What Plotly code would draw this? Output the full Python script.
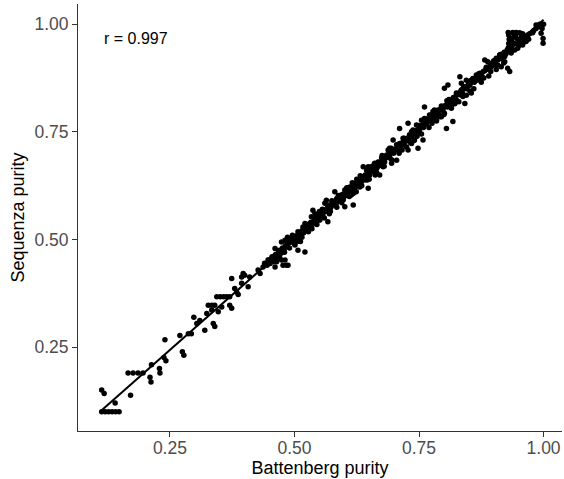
import numpy as np
import plotly.graph_objects as go

# Outlying / low-purity samples (Battenberg, Sequenza)
low_points = [
    (0.113, 0.100), (0.120, 0.100), (0.127, 0.100), (0.134, 0.100), (0.141, 0.100), (0.148, 0.100),
    (0.113, 0.150), (0.118, 0.142), (0.140, 0.120), (0.171, 0.138),
    (0.166, 0.190), (0.176, 0.190), (0.186, 0.190), (0.196, 0.190),
    (0.210, 0.180), (0.212, 0.169), (0.213, 0.209), (0.229, 0.200), (0.230, 0.190),
    (0.240, 0.267), (0.238, 0.226), (0.242, 0.218), (0.270, 0.277), (0.287, 0.281),
    (0.275, 0.239), (0.278, 0.231),
]
mid_points = [
    (0.293, 0.281), (0.298, 0.319), (0.304, 0.305), (0.310, 0.312), (0.320, 0.289),
    (0.324, 0.328), (0.327, 0.347), (0.334, 0.347), (0.340, 0.347), (0.334, 0.336),
    (0.337, 0.305), (0.340, 0.298), (0.347, 0.332), (0.354, 0.343),
    (0.344, 0.367), (0.351, 0.367), (0.358, 0.367), (0.364, 0.367), (0.370, 0.367),
    (0.370, 0.347), (0.374, 0.340), (0.374, 0.409), (0.380, 0.386), (0.384, 0.378),
    (0.387, 0.372), (0.394, 0.413), (0.397, 0.421), (0.400, 0.417), (0.394, 0.398),
    (0.407, 0.390), (0.410, 0.413), (0.427, 0.429), (0.431, 0.421), (0.437, 0.436),
    (0.447, 0.452), (0.454, 0.456), (0.457, 0.448), (0.461, 0.436), (0.451, 0.444),
    (0.464, 0.448), (0.474, 0.452), (0.484, 0.440),
    (0.461, 0.463), (0.461, 0.479), (0.477, 0.440), (0.481, 0.452), (0.487, 0.440),
    (0.471, 0.467), (0.477, 0.471), (0.484, 0.483), (0.474, 0.494), (0.481, 0.498),
    (0.487, 0.498), (0.494, 0.494), (0.497, 0.502), (0.501, 0.487), (0.504, 0.498),
    (0.511, 0.506), (0.507, 0.518), (0.517, 0.529), (0.521, 0.537), (0.514, 0.514),
    (0.521, 0.471), (0.507, 0.475), (0.531, 0.537), (0.534, 0.553), (0.541, 0.560),
    (0.537, 0.568), (0.547, 0.556), (0.551, 0.545), (0.557, 0.553), (0.557, 0.564),
    (0.561, 0.584), (0.564, 0.591), (0.567, 0.576), (0.571, 0.572), (0.567, 0.541),
    (0.581, 0.611), (0.577, 0.587), (0.584, 0.584), (0.591, 0.595), (0.594, 0.603),
    (0.604, 0.603), (0.601, 0.615), (0.601, 0.576), (0.618, 0.580), (0.611, 0.622),
    (0.621, 0.630), (0.628, 0.626), (0.634, 0.634), (0.641, 0.638), (0.621, 0.611),
    (0.614, 0.603),
]
high_points = [
    (0.614, 0.619), (0.621, 0.626), (0.624, 0.611), (0.618, 0.607), (0.628, 0.634),
    (0.631, 0.622), (0.638, 0.669), (0.648, 0.669), (0.654, 0.669), (0.648, 0.619),
    (0.641, 0.646), (0.648, 0.653), (0.654, 0.657), (0.661, 0.677), (0.668, 0.680),
    (0.665, 0.665), (0.671, 0.650), (0.678, 0.669), (0.678, 0.688), (0.685, 0.696),
    (0.688, 0.708), (0.691, 0.692), (0.691, 0.712), (0.698, 0.731), (0.695, 0.677),
    (0.705, 0.684), (0.708, 0.712), (0.711, 0.723), (0.715, 0.719), (0.718, 0.735),
    (0.721, 0.727), (0.711, 0.758), (0.728, 0.770), (0.731, 0.743), (0.738, 0.754),
    (0.745, 0.766), (0.741, 0.731), (0.748, 0.712), (0.735, 0.723), (0.728, 0.708),
    (0.755, 0.777), (0.761, 0.781), (0.758, 0.731), (0.751, 0.754), (0.771, 0.789),
    (0.778, 0.797), (0.781, 0.781), (0.788, 0.801), (0.761, 0.808), (0.795, 0.785),
    (0.805, 0.758), (0.801, 0.808),
    (0.775, 0.789), (0.781, 0.801), (0.785, 0.777), (0.795, 0.808), (0.801, 0.793),
    (0.808, 0.816), (0.815, 0.808), (0.818, 0.774), (0.801, 0.851), (0.808, 0.859),
    (0.825, 0.824), (0.832, 0.836), (0.835, 0.847), (0.838, 0.832), (0.842, 0.816),
    (0.832, 0.878), (0.835, 0.863), (0.845, 0.870), (0.852, 0.867), (0.858, 0.874),
    (0.855, 0.840), (0.865, 0.882), (0.872, 0.886), (0.875, 0.874), (0.882, 0.917),
    (0.888, 0.913), (0.885, 0.898), (0.895, 0.901), (0.902, 0.909), (0.908, 0.917),
    (0.912, 0.929), (0.915, 0.901), (0.922, 0.913), (0.928, 0.898), (0.932, 0.890),
    (0.932, 0.967), (0.935, 0.952), (0.938, 0.940),
]
top_points = [
    (0.929, 0.945), (0.930, 0.955), (0.931, 0.965), (0.930, 0.975), (0.929, 0.981),
    (0.938, 0.981), (0.945, 0.981), (0.952, 0.980), (0.958, 0.978), (0.940, 0.970),
    (0.948, 0.965), (0.955, 0.970), (0.962, 0.972), (0.968, 0.975), (0.972, 0.978),
    (0.978, 0.980), (0.942, 0.955), (0.950, 0.950), (0.958, 0.955), (0.965, 0.960),
    (0.970, 0.965), (0.985, 0.998), (0.992, 1.000), (0.995, 0.994), (0.995, 0.979),
    (0.999, 0.967), (0.999, 0.956), (0.905, 0.921), (0.918, 0.929), (0.928, 0.936),
    (0.935, 0.933), (0.942, 0.940), (0.948, 0.944), (0.958, 0.952), (0.985, 0.990),
    (0.980, 0.985), (0.990, 0.995), (1.000, 1.000), (0.997, 0.990),
    (0.936, 0.962), (0.944, 0.975), (0.952, 0.960), (0.960, 0.965), (0.934, 0.942),
]
band_points = [
    (0.440, 0.445), (0.445, 0.440), (0.448, 0.452), (0.452, 0.450), (0.455, 0.460),
    (0.458, 0.455), (0.462, 0.465), (0.465, 0.458), (0.468, 0.470), (0.470, 0.475),
    (0.473, 0.468), (0.476, 0.480), (0.479, 0.476), (0.482, 0.485), (0.485, 0.490),
    (0.488, 0.492), (0.490, 0.500), (0.492, 0.495), (0.495, 0.500), (0.498, 0.500),
    (0.500, 0.505), (0.503, 0.500), (0.506, 0.510), (0.509, 0.500), (0.512, 0.510),
    (0.515, 0.520), (0.518, 0.515), (0.520, 0.525), (0.524, 0.520), (0.527, 0.530),
    (0.530, 0.525), (0.533, 0.540), (0.536, 0.535), (0.540, 0.545), (0.543, 0.540),
    (0.546, 0.550), (0.549, 0.545), (0.552, 0.560), (0.555, 0.555), (0.558, 0.562),
    (0.561, 0.565), (0.564, 0.570), (0.567, 0.565), (0.570, 0.580), (0.573, 0.575),
    (0.576, 0.585), (0.579, 0.580), (0.582, 0.590), (0.585, 0.595), (0.588, 0.590),
    (0.591, 0.600), (0.594, 0.595), (0.597, 0.605), (0.600, 0.600), (0.603, 0.610),
    (0.606, 0.605), (0.609, 0.615), (0.612, 0.620), (0.615, 0.610), (0.618, 0.625),
    (0.621, 0.620), (0.624, 0.630), (0.627, 0.625), (0.630, 0.640), (0.633, 0.630),
    (0.636, 0.645), (0.639, 0.640), (0.642, 0.650), (0.645, 0.645), (0.648, 0.655),
    (0.651, 0.650), (0.654, 0.660), (0.657, 0.665), (0.660, 0.660), (0.663, 0.670),
    (0.666, 0.668), (0.669, 0.675), (0.672, 0.680), (0.675, 0.672), (0.678, 0.685),
    (0.681, 0.680), (0.684, 0.690), (0.687, 0.695), (0.690, 0.690), (0.693, 0.700),
    (0.696, 0.705), (0.699, 0.700), (0.702, 0.710), (0.705, 0.708), (0.708, 0.715),
    (0.711, 0.712), (0.714, 0.720), (0.717, 0.725), (0.720, 0.720), (0.723, 0.730),
    (0.726, 0.735), (0.729, 0.730), (0.732, 0.740), (0.735, 0.738), (0.738, 0.745),
    (0.741, 0.750), (0.744, 0.745), (0.747, 0.755), (0.750, 0.750), (0.753, 0.760),
    (0.756, 0.765), (0.759, 0.760), (0.762, 0.770), (0.765, 0.768), (0.768, 0.775),
    (0.771, 0.780), (0.774, 0.775), (0.777, 0.785), (0.780, 0.790), (0.783, 0.785),
    (0.786, 0.795), (0.789, 0.790), (0.792, 0.800), (0.795, 0.805), (0.798, 0.800),
    (0.801, 0.810), (0.804, 0.812), (0.807, 0.808), (0.810, 0.820), (0.813, 0.818),
    (0.816, 0.825), (0.819, 0.830), (0.822, 0.825), (0.825, 0.835), (0.828, 0.838),
    (0.831, 0.840), (0.834, 0.845), (0.837, 0.840), (0.840, 0.850), (0.843, 0.855),
    (0.846, 0.850), (0.849, 0.860), (0.852, 0.858), (0.855, 0.865), (0.858, 0.870),
    (0.861, 0.865), (0.864, 0.875), (0.867, 0.878), (0.870, 0.880), (0.873, 0.885),
    (0.876, 0.880), (0.879, 0.890), (0.882, 0.892), (0.885, 0.895), (0.888, 0.900),
    (0.891, 0.898), (0.894, 0.905), (0.897, 0.910), (0.900, 0.905), (0.903, 0.915),
    (0.906, 0.918), (0.909, 0.920), (0.912, 0.925), (0.915, 0.920), (0.918, 0.930),
    (0.921, 0.935), (0.924, 0.930), (0.927, 0.940), (0.930, 0.945), (0.933, 0.950),
    (0.470, 0.460), (0.480, 0.470), (0.490, 0.480), (0.500, 0.490), (0.505, 0.495),
    (0.515, 0.505), (0.525, 0.535), (0.535, 0.525), (0.545, 0.535), (0.550, 0.565),
    (0.560, 0.550), (0.570, 0.560), (0.575, 0.590), (0.585, 0.575), (0.595, 0.585),
    (0.605, 0.620), (0.610, 0.600), (0.620, 0.610), (0.625, 0.640), (0.635, 0.625),
    (0.645, 0.660), (0.650, 0.640), (0.660, 0.675), (0.665, 0.655), (0.675, 0.690),
    (0.680, 0.670), (0.690, 0.705), (0.695, 0.685), (0.705, 0.720), (0.710, 0.700),
    (0.720, 0.735), (0.725, 0.715), (0.735, 0.750), (0.740, 0.730), (0.750, 0.765),
    (0.755, 0.745), (0.765, 0.780), (0.770, 0.760), (0.780, 0.795), (0.785, 0.775),
    (0.795, 0.810), (0.800, 0.790), (0.810, 0.825), (0.815, 0.805), (0.825, 0.840),
    (0.830, 0.820), (0.840, 0.855), (0.845, 0.835), (0.855, 0.870), (0.860, 0.850),
    (0.870, 0.885), (0.875, 0.865), (0.885, 0.900), (0.890, 0.880), (0.900, 0.915),
    (0.905, 0.895), (0.915, 0.930), (0.920, 0.910),
    (0.496, 0.510), (0.486, 0.505), (0.512, 0.495), (0.528, 0.518), (0.542, 0.552),
    (0.556, 0.570), (0.572, 0.565), (0.588, 0.602), (0.598, 0.592), (0.616, 0.632),
    (0.632, 0.648), (0.646, 0.638), (0.662, 0.650), (0.676, 0.695), (0.694, 0.712),
    (0.716, 0.708), (0.732, 0.725), (0.746, 0.740), (0.764, 0.775), (0.776, 0.770),
    (0.792, 0.785), (0.806, 0.822), (0.822, 0.815), (0.838, 0.850), (0.852, 0.845),
    (0.866, 0.870), (0.880, 0.875), (0.894, 0.890), (0.908, 0.905), (0.922, 0.925),
]

all_points = low_points + mid_points + high_points + top_points + band_points
battenberg = [p[0] for p in all_points]
sequenza = [p[1] for p in all_points]

x_ticks = [0.25, 0.50, 0.75, 1.00]
y_ticks = [0.25, 0.50, 0.75, 1.00]
r_label = "r = 0.997"

# linear fit (like geom_smooth(method = "lm"))
bx = np.array(battenberg)
sy = np.array(sequenza)
slope, intercept = np.polyfit(bx, sy, 1)
fit_x = [bx.min(), bx.max()]
fit_y = [intercept + slope * v for v in fit_x]

font_family = "Liberation Sans, Arial, sans-serif"

fig = go.Figure()
fig.add_trace(go.Scatter(
    x=battenberg, y=sequenza, mode="markers",
    marker=dict(color="black", size=5.5, line=dict(width=0)),
    showlegend=False, hoverinfo="skip",
))
fig.add_trace(go.Scatter(
    x=fit_x, y=fit_y, mode="lines",
    line=dict(color="black", width=2),
    showlegend=False, hoverinfo="skip",
))

fig.add_annotation(
    x=0.114, y=0.967, xref="x", yref="y", text=r_label, showarrow=False,
    xanchor="left", yanchor="middle",
    font=dict(family=font_family, size=16, color="black"),
)

axis_common = dict(
    showgrid=False, zeroline=False, showline=True, linecolor="#333333", linewidth=1,
    ticks="outside", ticklen=5, tickcolor="#333333", tickwidth=1,
    tickfont=dict(family=font_family, size=17.5, color="#4D4D4D"),
    mirror=False,
)

fig.update_layout(
    width=564, height=479,
    margin=dict(l=78, r=2, t=4, b=48),
    paper_bgcolor="white", plot_bgcolor="white",
    xaxis=dict(
        range=[0.0655, 1.037], tickvals=x_ticks, ticktext=[f"{v:.2f}" for v in x_ticks],
        ticklabelstandoff=-4,
        title=dict(text="Battenberg purity", font=dict(family=font_family, size=18, color="black"), standoff=3),
        **axis_common,
    ),
    yaxis=dict(
        range=[0.055, 1.047], tickvals=y_ticks, ticktext=[f"{v:.2f}" for v in y_ticks],
        title=dict(text="Sequenza purity", font=dict(family=font_family, size=18, color="black"), standoff=5),
        **axis_common,
    ),
)

fig.write_html("out.html")
